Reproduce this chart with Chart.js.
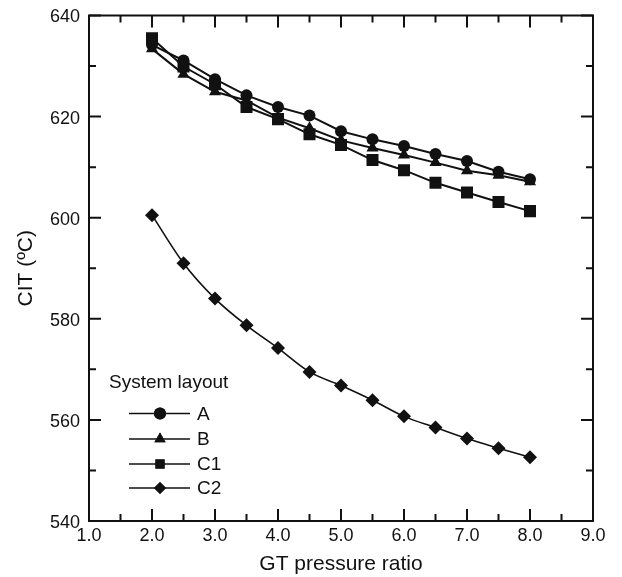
<!DOCTYPE html>
<html>
<head>
<meta charset="utf-8">
<script src="https://cdn.jsdelivr.net/npm/chart.js@4"></script>
<style>
  html, body { margin: 0; padding: 0; background: #fff; }
  #wrap { width: 622px; height: 577px; }
</style>
</head>
<body>
<div id="wrap"><canvas id="cit"></canvas></div>
<script>
// GT pressure ratio (x)
const pressureRatio = [2.0, 2.5, 3.0, 3.5, 4.0, 4.5, 5.0, 5.5, 6.0, 6.5, 7.0, 7.5, 8.0];

// CIT (°C) per system layout
const layoutA  = [634.2, 631.1, 627.4, 624.2, 621.9, 620.2, 617.1, 615.5, 614.2, 612.6, 611.2, 609.1, 607.6];
const layoutB  = [633.4, 628.4, 624.9, 623.2, 619.8, 617.7, 615.3, 613.8, 612.4, 610.9, 609.3, 608.4, 607.1];
const layoutC1 = [635.5, 629.9, 626.4, 621.9, 619.5, 616.5, 614.4, 611.4, 609.4, 606.9, 605.0, 603.1, 601.3];
const layoutC2 = [600.5, 591.0, 584.0, 578.7, 574.2, 569.5, 566.8, 563.9, 560.7, 558.5, 556.3, 554.4, 552.6];

const legendTitle = 'System layout';
const legendLabels = ['A', 'B', 'C1', 'C2'];

const FONT = "'Liberation Sans', Arial, sans-serif";
const INK = '#111';

function pts(ys) {
  return pressureRatio.map((x, i) => ({ x, y: ys[i] }));
}

// Frame with inward ticks on all four sides, plus the in-plot legend
const framePlugin = {
  id: 'frame',
  afterDatasetsDraw(chart) {
    const { ctx, chartArea: a, scales: { x, y } } = chart;
    ctx.save();
    ctx.strokeStyle = INK;
    ctx.lineWidth = 2;
    ctx.strokeRect(a.left, a.top, a.right - a.left, a.bottom - a.top);

    ctx.beginPath();
    for (let v = 1; v <= 9.001; v += 0.5) {
      const px = x.getPixelForValue(v);
      const len = Math.abs(v - Math.round(v)) < 0.01 ? 12 : 7;
      ctx.moveTo(px, a.bottom); ctx.lineTo(px, a.bottom - len);
      ctx.moveTo(px, a.top); ctx.lineTo(px, a.top + len);
    }
    for (let v = 540; v <= 640; v += 10) {
      const py = y.getPixelForValue(v);
      const len = v % 20 === 0 ? 12 : 7;
      ctx.moveTo(a.left, py); ctx.lineTo(a.left + len, py);
      ctx.moveTo(a.right, py); ctx.lineTo(a.right - len, py);
    }
    ctx.stroke();

    // legend
    ctx.fillStyle = INK;
    ctx.font = '19px ' + FONT;
    ctx.textBaseline = 'middle';
    ctx.textAlign = 'left';
    ctx.fillText(legendTitle, 109, 383);
    const rows = [413.5, 439, 464, 488];
    const sizes = [6, 6.5, 6.5, 6];
    chart.data.datasets.forEach((ds, i) => {
      const ry = rows[i];
      ctx.lineWidth = 1.5;
      ctx.beginPath();
      ctx.moveTo(129, ry); ctx.lineTo(190, ry);
      ctx.stroke();
      Chart.helpers.drawPoint(ctx, {
        pointStyle: ds.pointStyle, radius: sizes[i], rotation: 0, borderWidth: 0
      }, 160, ry);
      ctx.fill();
      ctx.fillText(legendLabels[i], 197, ry + 1);
    });
    ctx.restore();
  }
};

function series(label, data, style, radius, order, width, smooth) {
  return {
    label,
    data: pts(data),
    borderColor: INK,
    backgroundColor: INK,
    borderWidth: width,
    pointStyle: style,
    pointRadius: radius,
    pointHoverRadius: radius,
    pointBackgroundColor: INK,
    pointBorderColor: INK,
    pointBorderWidth: 0,
    cubicInterpolationMode: smooth ? 'monotone' : 'default',
    tension: 0,
    order
  };
}

new Chart(document.getElementById('cit'), {
  type: 'line',
  plugins: [framePlugin],
  data: {
    datasets: [
      series('A', layoutA, 'circle', 6, 1, 2),
      series('B', layoutB, 'triangle', 7, 2, 2),
      series('C1', layoutC1, 'rect', 8.5, 0, 2),
      series('C2', layoutC2, 'rectRot', 7, 3, 1.6, true)
    ]
  },
  options: {
    responsive: true,
    maintainAspectRatio: false,
    animation: false,
    layout: { padding: { top: 15.5, right: 29, left: 10, bottom: 0 } },
    plugins: { legend: { display: false }, tooltip: { enabled: false } },
    scales: {
      x: {
        type: 'linear',
        min: 1, max: 9,
        grid: { display: false, drawTicks: false },
        border: { display: false },
        ticks: {
          stepSize: 1,
          padding: 4,
          color: INK,
          font: { family: FONT, size: 18 },
          callback: v => Number(v).toFixed(1)
        },
        title: {
          display: true,
          text: 'GT pressure ratio',
          color: INK,
          font: { family: FONT, size: 21 },
          padding: { top: 0, bottom: 0 }
        },
        afterFit(s) { s.height = 56; s.paddingLeft = 0; s.paddingRight = 0; }
      },
      y: {
        min: 540, max: 640,
        grid: { display: false, drawTicks: false },
        border: { display: false },
        ticks: {
          stepSize: 20,
          padding: 9,
          labelOffset: 2,
          color: INK,
          font: { family: FONT, size: 18 }
        },
        title: {
          display: true,
          text: 'CIT (ºC)',
          color: INK,
          font: { family: FONT, size: 21 },
          padding: { top: 4, bottom: 4 }
        },
        afterFit(s) { s.width = 79; s.paddingTop = 0; s.paddingBottom = 0; }
      }
    }
  }
});
</script>
</body>
</html>
